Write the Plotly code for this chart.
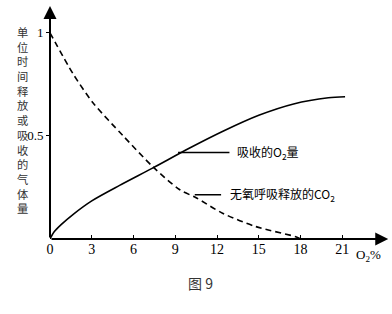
import plotly.graph_objects as go

# O2 absorbed (solid)
o2_x = [0, 0.3, 0.8, 1.67, 3, 5, 7.4, 10, 12.5, 15, 17.5, 20, 21.2]
o2_y = [0, 0.035, 0.07, 0.12, 0.185, 0.26, 0.345, 0.44, 0.525, 0.6, 0.655, 0.685, 0.69]
# CO2 released by anaerobic respiration (dashed)
co2_x = [0, 1.67, 3.1, 5.26, 7.4, 9.3, 10.5, 12.4, 14.8, 17.7, 18]
co2_y = [1.0, 0.8, 0.66, 0.5, 0.35, 0.24, 0.2, 0.125, 0.06, 0.01, 0.0]

xticks = [0, 3, 6, 9, 12, 15, 18, 21]
yticks = [0.5, 1]
ylabel_chars = list("单位时间释放或吸收的气体量")

serif = "Liberation Serif"
cjk = "Noto Sans CJK SC"

W, H = 392, 314
L, R, T, B = 50, 1, 4, 75
pw, ph = W - L - R, H - T - B


def px(x):
    return (x - L) / pw


def py(y):
    return (H - B - y) / ph


fig = go.Figure()
fig.add_trace(go.Scatter(x=o2_x, y=o2_y, mode="lines",
                         line=dict(color="black", width=1.6, shape="spline", smoothing=0.8), showlegend=False))
fig.add_trace(go.Scatter(x=co2_x, y=co2_y, mode="lines",
                         line=dict(color="black", width=1.6, dash="6px,4px", shape="spline", smoothing=0.8),
                         showlegend=False))

ann = []
# axis arrows
ann.append(dict(x=24.3, y=0, ax=0, ay=0, xref="x", yref="y", axref="x", ayref="y", showarrow=True,
                arrowhead=2, arrowsize=1.3, arrowwidth=2, arrowcolor="black", text=""))
ann.append(dict(x=0, y=1.13, ax=0, ay=0, xref="x", yref="y", axref="x", ayref="y", showarrow=True,
                arrowhead=2, arrowsize=1.3, arrowwidth=2, arrowcolor="black", text=""))
# label lines and texts
ann.append(dict(x=9.2, y=0.42, ax=13.0, ay=0.42, xref="x", yref="y", axref="x", ayref="y", showarrow=True,
                arrowhead=0, arrowwidth=1.5, arrowcolor="black", text=""))
ann.append(dict(x=13.3, y=0.42, xref="x", yref="y", text="吸收的O<sub>2</sub>量", showarrow=False, xanchor="left",
                font=dict(family=cjk, size=12, color="black")))
ann.append(dict(x=10.4, y=0.215, ax=12.4, ay=0.215, xref="x", yref="y", axref="x", ayref="y", showarrow=True,
                arrowhead=0, arrowwidth=1.5, arrowcolor="black", text=""))
ann.append(dict(x=12.8, y=0.215, xref="x", yref="y", text="无氧呼吸释放的CO<sub>2</sub>", showarrow=False,
                xanchor="left", font=dict(family=cjk, size=12, color="black")))
# x unit
ann.append(dict(x=22.9, y=0, xref="x", yref="y", yshift=-16, text="O<sub>2</sub>%", showarrow=False,
                font=dict(family=serif, size=13, color="black")))
# vertical y label
ann.append(dict(x=px(15), y=py(120), xref="paper", yref="paper", text="<br>".join(ylabel_chars),
                showarrow=False, font=dict(family=cjk, size=11.3, color="#333")))
# caption
ann.append(dict(x=px(200), y=py(295), xref="paper", yref="paper", text="图 9", showarrow=False,
                font=dict(family=cjk, size=14, color="#333")))

fig.update_layout(
    width=W, height=H, margin=dict(l=L, r=R, t=T, b=B),
    paper_bgcolor="white", plot_bgcolor="white",
    annotations=ann,
    xaxis=dict(range=[0, 24.5], tickvals=xticks, ticktext=[str(v) for v in xticks], ticks="inside", ticklen=4,
               tickcolor="black", tickwidth=1.3, showgrid=False, zeroline=False, showline=False,
               tickfont=dict(family=serif, size=14, color="black")),
    yaxis=dict(range=[0, 1.14], tickvals=yticks, ticktext=["0.5", "1"], ticks="outside", ticklen=3,
               tickcolor="black", tickwidth=1.3, showgrid=False, zeroline=False, showline=False,
               tickfont=dict(family=serif, size=13, color="black")),
)
fig.write_html("out.html")
